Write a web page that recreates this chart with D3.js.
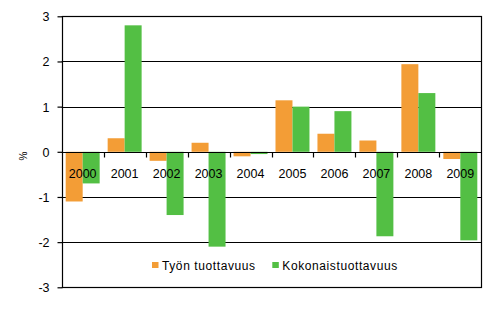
<!DOCTYPE html>
<html>
<head>
<meta charset="utf-8">
<script src="https://cdn.jsdelivr.net/npm/d3@7"></script>
<style>
  html, body { margin: 0; padding: 0; background: #fff; }
  text { font-family: "Liberation Sans", Arial, sans-serif; fill: #000; }
</style>
</head>
<body>
<svg id="chart" width="497" height="322"></svg>
<script>
// Annual productivity change, %
const years = ["2000", "2001", "2002", "2003", "2004", "2005", "2006", "2007", "2008", "2009"];
const labourProductivity = [-1.1, 0.3, -0.2, 0.2, -0.1, 1.14, 0.4, 0.25, 1.94, -0.16];
const totalProductivity = [-0.7, 2.8, -1.4, -2.1, -0.05, 1.0, 0.9, -1.87, 1.3, -1.96];
const seriesNames = ["Työn tuottavuus", "Kokonaistuottavuus"];
const seriesColors = ["#F39D36", "#53BF44"];
const yTicks = [-3, -2, -1, 0, 1, 2, 3];

const svg = d3.select("#chart");
const plotLeft = 61.7, plotRight = 481.3, plotTop = 16.3, plotBottom = 287.3;

const x = d3.scaleBand().domain(years).range([plotLeft, plotRight]).paddingInner(0).paddingOuter(0);
const inner = d3.scaleBand().domain([0, 1]).range([0, x.bandwidth()]).paddingInner(0).paddingOuter(4 / 17);
const y = d3.scaleLinear().domain([-3, 3]).range([plotBottom, plotTop]);

// horizontal gridlines
svg.append("g").selectAll("line").data(yTicks).join("line")
  .attr("x1", plotLeft).attr("x2", plotRight)
  .attr("y1", d => Math.round(y(d)) + 0.5).attr("y2", d => Math.round(y(d)) + 0.5)
  .attr("stroke", "#000").attr("stroke-width", 1);

// bars
const series = [labourProductivity, totalProductivity];
series.forEach((vals, s) => {
  svg.append("g").selectAll("rect").data(vals).join("rect")
    .attr("x", (d, i) => x(years[i]) + inner(s))
    .attr("width", inner.bandwidth())
    .attr("y", d => y(Math.max(0, d)))
    .attr("height", d => Math.abs(y(d) - y(0)))
    .attr("fill", seriesColors[s]);
});

// plot border
svg.append("rect")
  .attr("x", Math.round(plotLeft) + 0.5).attr("y", Math.round(plotTop) + 0.5)
  .attr("width", Math.round(plotRight) - Math.round(plotLeft)).attr("height", Math.round(plotBottom) - Math.round(plotTop))
  .attr("fill", "none").attr("stroke", "#000").attr("stroke-width", 1.2);

// zero line on top of bars, with category ticks
const y0 = Math.round(y(0)) + 0.5;
svg.append("line").attr("x1", plotLeft).attr("x2", plotRight).attr("y1", y0).attr("y2", y0)
  .attr("stroke", "#000").attr("stroke-width", 1.2);
svg.append("g").selectAll("line").data(years.slice(1)).join("line")
  .attr("x1", d => Math.round(x(d)) + 0.5).attr("x2", d => Math.round(x(d)) + 0.5)
  .attr("y1", y0).attr("y2", y0 + 5)
  .attr("stroke", "#000").attr("stroke-width", 1.2);

// y axis
const yAxis = d3.axisLeft(y).tickValues(yTicks).tickSize(5).tickPadding(8).tickFormat(d => String(d));
const ya = svg.append("g").attr("transform", `translate(${Math.round(plotLeft) + 0.5},0)`).call(yAxis);
ya.select(".domain").remove();
ya.selectAll(".tick line").attr("stroke", "#000").attr("stroke-width", 1.2);
ya.selectAll(".tick text").style("font-size", "12.5px").attr("font-family", null).attr("dy", "0.36em");

// year labels
svg.append("g").selectAll("text").data(years).join("text")
  .attr("x", d => x(d) + x.bandwidth() / 2)
  .attr("y", 177.5)
  .attr("text-anchor", "middle")
  .style("font-size", "12.5px")
  .text(d => d);

// y axis title
svg.append("text")
  .attr("transform", "translate(27,156) rotate(-90)")
  .attr("text-anchor", "middle")
  .style("font-size", "10px")
  .text("%");

// legend
const legendItems = [{ x: 152, tx: 162 }, { x: 272.3, tx: 282.3 }];
legendItems.forEach((it, i) => {
  svg.append("rect").attr("x", it.x).attr("y", 262).attr("width", 6.5).attr("height", 6)
    .attr("fill", seriesColors[i]);
  svg.append("text").attr("x", it.tx).attr("y", 270).style("font-size", "12px")
    .style("letter-spacing", "0.6px").text(seriesNames[i]);
});
</script>
</body>
</html>
